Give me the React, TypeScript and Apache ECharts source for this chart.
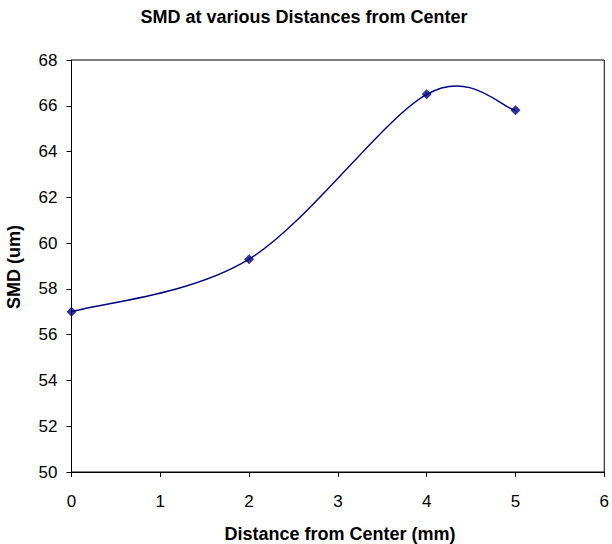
import React, { useEffect, useRef } from "react";
import * as echarts from "echarts";

const distances = [0, 2, 4, 5];
const smdValues = [57.0, 59.3, 66.5, 65.8];
const xTicks = [0, 1, 2, 3, 4, 5, 6];
const yTicks = [50, 52, 54, 56, 58, 60, 62, 64, 66, 68];

const FONT = "Liberation Sans, Arial, sans-serif";
const NAVY = "#000080";

export default function App() {
  const ref = useRef<HTMLDivElement>(null);
  useEffect(() => {
    if (!ref.current) return;
    const chart = echarts.init(ref.current, null, { renderer: "svg" });
    const points = distances.map((d, i) => [d, smdValues[i]]);
    chart.setOption({
      animation: false,
      backgroundColor: "#ffffff",
      textStyle: { fontFamily: FONT },
      grid: {
        left: 71.5,
        right: 5,
        top: 60,
        bottom: 72,
        show: true,
        borderColor: "#000",
        borderWidth: 1,
        backgroundColor: "transparent",
      },
      xAxis: {
        type: "value",
        min: xTicks[0],
        max: xTicks[xTicks.length - 1],
        interval: 1,
        axisLine: { show: true, lineStyle: { color: "#000", width: 1 } },
        axisTick: { show: true, inside: false, length: 5, lineStyle: { color: "#000" } },
        axisLabel: { margin: 21, fontSize: 17, color: "#000", fontFamily: FONT },
        splitLine: { show: false },
      },
      yAxis: {
        type: "value",
        min: yTicks[0],
        max: yTicks[yTicks.length - 1],
        interval: 2,
        axisLine: { show: true, lineStyle: { color: "#000", width: 1 } },
        axisTick: { show: true, inside: false, length: 5, lineStyle: { color: "#000" } },
        axisLabel: { margin: 14, fontSize: 17, color: "#000", fontFamily: FONT },
        splitLine: { show: false },
      },
      graphic: [
        {
          type: "text",
          x: 304,
          y: 17,
          style: {
            text: "SMD at various Distances from Center",
            font: `bold 18px ${FONT}`,
            fill: "#000",
            align: "center",
            verticalAlign: "middle",
          },
        },
        {
          type: "text",
          x: 340,
          y: 534,
          style: {
            text: "Distance from Center (mm)",
            font: `bold 18px ${FONT}`,
            fill: "#000",
            align: "center",
            verticalAlign: "middle",
          },
        },
        {
          type: "text",
          x: 14,
          y: 267,
          rotation: Math.PI / 2,
          style: {
            text: "SMD (um)",
            font: `bold 18px ${FONT}`,
            fill: "#000",
            align: "center",
            verticalAlign: "middle",
          },
        },
      ],
      series: [
        {
          type: "custom",
          data: points,
          encode: { x: 0, y: 1 },
          renderItem: (params: any, api: any) => {
            const i = params.dataIndex;
            const n = points.length;
            if (i >= n - 1) return null;
            const c = (k: number) => {
              const kk = Math.max(0, Math.min(n - 1, k));
              return api.coord(points[kk]);
            };
            const p0 = c(i - 1);
            const p1 = c(i);
            const p2 = c(i + 1);
            const p3 = c(i + 2);
            return {
              type: "bezierCurve",
              shape: {
                x1: p1[0],
                y1: p1[1],
                x2: p2[0],
                y2: p2[1],
                cpx1: p1[0] + (p2[0] - p0[0]) / 6,
                cpy1: p1[1] + (p2[1] - p0[1]) / 6,
                cpx2: p2[0] - (p3[0] - p1[0]) / 6,
                cpy2: p2[1] - (p3[1] - p1[1]) / 6,
              },
              style: { stroke: NAVY, lineWidth: 1.4, fill: null },
            };
          },
          z: 2,
        },
        {
          type: "scatter",
          data: points,
          symbol: "diamond",
          symbolSize: 10,
          itemStyle: { color: NAVY },
          z: 3,
        },
      ],
    });
    return () => chart.dispose();
  }, []);
  return (
    <div
      ref={ref}
      style={{ position: "fixed", left: 0, top: 0, width: 612, height: 544 }}
    />
  );
}
